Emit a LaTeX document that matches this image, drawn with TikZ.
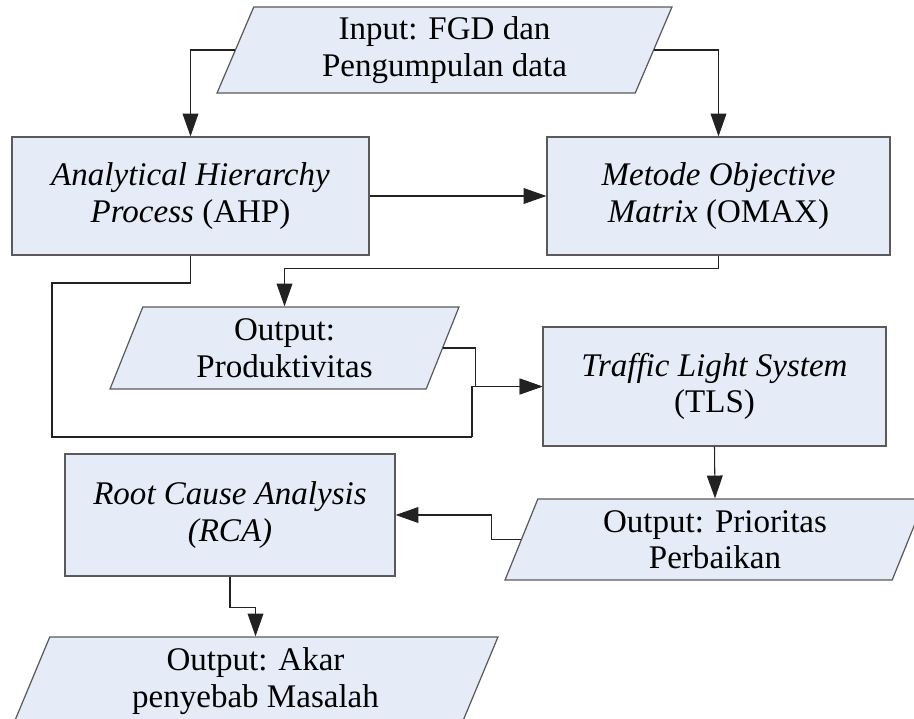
\documentclass[tikz,border=0pt]{standalone}
\usepackage{fontspec}
\setmainfont{Liberation Serif}
\usepackage{tikz}
\usetikzlibrary{shapes.geometric,arrows.meta,positioning,calc}
\definecolor{boxcol}{HTML}{E6ECF7}
\definecolor{edgecol}{HTML}{5A5A5A}
\definecolor{linecol}{HTML}{222222}

\begin{document}
\begin{tikzpicture}[x=0.02cm, y=-0.02cm,
  procbox/.style={draw=edgecol, fill=boxcol, line width=0.7pt, align=center, inner sep=2pt, font=\fontsize{18.8}{20.8}\selectfont},
  iobox/.style={procbox, trapezium, trapezium left angle=63.5, trapezium right angle=116.5, trapezium stretches body},
  flow/.style={-{Triangle[length=13pt,width=9pt]}, line width=0.6pt, draw=linecol},
  link/.style={line width=0.6pt, draw=linecol}
]
  \useasboundingbox (0,0) rectangle (914,718);

  % input
  \node[iobox, minimum width=9.1cm, minimum height=1.72cm] (inp) at (444.5,50) {Input: FGD dan\\Pengumpulan data};

  % methods
  \node[procbox, minimum width=7.14cm, minimum height=2.36cm] (ahp) at (190.5,196) {\textit{Analytical Hierarchy}\\\textit{Process} (AHP)};
  \node[procbox, minimum width=6.86cm, minimum height=2.36cm] (omax) at (718.5,196) {\textit{Metode Objective}\\\textit{Matrix} (OMAX)};
  \node[iobox, minimum width=6.98cm, minimum height=1.64cm] (prod) at (284.5,348) {Output:\\Produktivitas};
  \node[procbox, minimum width=6.86cm, minimum height=2.38cm] (tls) at (714.5,386.5) {\textit{Traffic Light System}\\(TLS)};
  \node[iobox, minimum width=8.4cm, minimum height=1.62cm] (prio) at (715,539.5) {Output: Prioritas\\Perbaikan};
  \node[procbox, minimum width=6.6cm, minimum height=2.44cm] (rca) at (230,515) {\textit{Root Cause Analysis}\\\textit{(RCA)}};
  \node[iobox, minimum width=9.7cm, minimum height=1.76cm] (akar) at (255.5,681) {Output: Akar\\penyebab Masalah};

  % loop from AHP
  \coordinate (loopL) at (52,283);
  \coordinate (loopB) at (472,437);

  % arrows
  \draw[flow] (inp.west) -| (ahp.north);
  \draw[flow] (inp.east) -| (omax.north);
  \draw[flow] (ahp.east) -- (omax.west);
  \draw[flow] (omax.south) -- ++(0,13) -| (prod.north);
  \draw[link] (ahp.south) |- (loopL) |- (loopB);
  \draw[flow] (loopB) |- (tls.west);
  \draw[flow] (prod.east) -- ++(32,0) |- (tls.west);
  \draw[flow] (tls.south) -- (prio.north);
  \draw[flow] (prio.west) -- ++(-29,0) |- (rca.east);
  \draw[flow] (rca.south) -- ++(0,31) -| (akar.north);
\end{tikzpicture}
\end{document}
